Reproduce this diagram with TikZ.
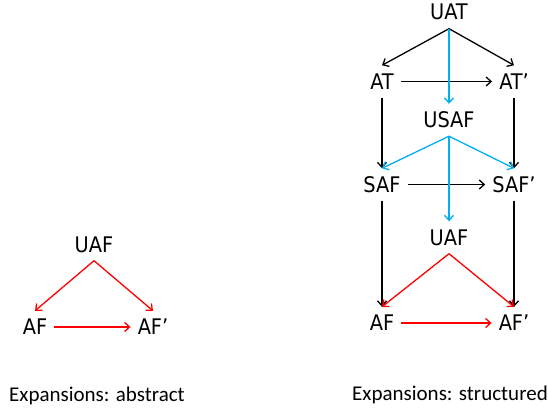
\documentclass[tikz,border=0pt]{standalone}
\usepackage{fontspec}
\setmainfont{Carlito}
\newfontfamily\nodefont{DejaVu Sans Condensed}
\usetikzlibrary{arrows.meta}
\definecolor{arrblue}{RGB}{0,176,240}
\definecolor{arrred}{RGB}{255,0,0}
\tikzset{
  lbl/.style={font=\nodefont\fontsize{21.5}{25}\selectfont, inner xsep=7pt, inner ysep=8.5pt, text height=15pt, text depth=0pt},
  captext/.style={font=\fontsize{21}{25}\selectfont, inner sep=0pt, anchor=base},
  arr/.style={line width=1.3pt, -{Straight Barb[length=5pt,width=9pt]}},
  blk/.style={arr, black},
  blu/.style={arr, arrblue},
  rd/.style={arr, arrred}
}
\begin{document}
\begin{tikzpicture}[x=1pt,y=-1pt]
\useasboundingbox (0,0) rectangle (548,412);
% right diagram
\node[lbl] (uat) at (449,12.5) {UAT};
\node[lbl] (at) at (382,81.5) {AT};
\node[lbl] (atp) at (514,81.5) {AT’};
\node[lbl] (usaf) at (449,120) {USAF};
\node[lbl] (saf) at (382,184.5) {SAF};
\node[lbl] (safp) at (514,184.5) {SAF’};
\node[lbl] (uafr) at (449,237.5) {UAF};
\node[lbl] (afr) at (382,323) {AF};
\node[lbl] (afrp) at (514,323) {AF’};
\draw[blk] (uat.south) -- (at.north);
\draw[blk] (uat.south) -- (atp.north);
\draw[blk] (at.east) -- (atp.west);
\draw[blk] (at.south) -- (at.south |- saf.north);
\draw[blk] (atp.south) -- (atp.south |- safp.north);
\draw[blu] (uat.south) -- (usaf.north);
\draw[blu] (usaf.south) -- (saf.north);
\draw[blu] (usaf.south) -- (safp.north);
\draw[blk] (saf.east) -- (safp.west);
\draw[blu] (usaf.south) -- (uafr.north);
\draw[blk] (saf.south) -- (saf.south |- afr.north);
\draw[blk] (safp.south) -- (safp.south |- afrp.north);
\draw[rd] (uafr.south) -- (afr.north);
\draw[rd] (uafr.south) -- (afrp.north);
\draw[rd] (afr.east) -- (afrp.west);
% left diagram
\node[lbl] (uafl) at (94,244.5) {UAF};
\node[lbl] (afl) at (35,327) {AF};
\node[lbl] (aflp) at (153,327) {AF’};
\draw[rd] (uafl.south) -- (afl.north);
\draw[rd] (uafl.south) -- (aflp.north);
\draw[rd] (afl.east) -- (aflp.west);
% captions
\node[captext] (capl) at (97,401) {Expansions: abstract};
\node[captext] (capr) at (450,400) {Expansions: structured};
\end{tikzpicture}
\end{document}
